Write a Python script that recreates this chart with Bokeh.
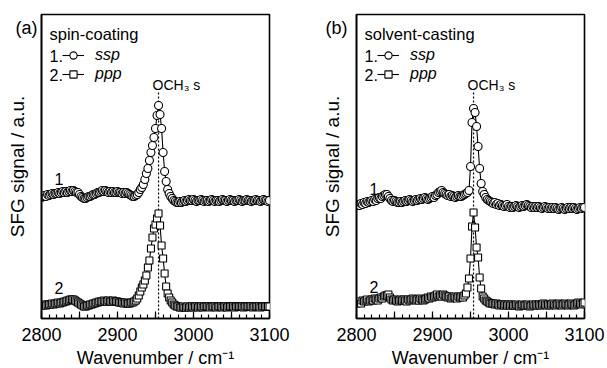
from bokeh.plotting import figure
from bokeh.layouts import row
from bokeh.models import Range1d, FixedTicker, Label, Legend, LegendItem, Title
from bokeh.embed import file_html
from bokeh.resources import INLINE

# ---------------- data ----------------
wavenumber = list(range(2800, 3101, 2))
major_ticks = [2800, 2850, 2900, 2950, 3000, 3050, 3100]
tick_labels = {2800: "2800", 2850: "", 2900: "2900", 2950: "", 3000: "3000", 3050: "", 3100: "3100"}
minor_ticks = list(range(2800, 3101, 10))
peak_wn = 2954

a_ssp = [121, 122, 123, 122, 124, 123, 124, 125, 124, 125,
         125, 126, 125, 126, 127, 126, 127, 126, 127, 128,
         127, 128, 127, 126, 126, 124, 122, 121, 120, 120,
         121, 122, 122, 123, 124, 124, 125, 126, 126, 127,
         128, 127, 128, 127, 126, 127, 126, 127, 126, 126,
         127, 126, 126, 125, 126, 125, 126, 125, 124, 123,
         122, 122, 123, 124, 126, 129, 131, 134, 139, 145,
         150, 158, 166, 173, 181, 190, 203, 213, 204, 190,
         166, 147, 137, 129, 125, 122, 120, 118, 117, 116,
         116, 117, 116, 117, 118, 117, 118, 119, 118, 118,
         119, 118, 117, 118, 118, 119, 118, 117, 118, 118,
         117, 118, 119, 118, 117, 118, 118, 117, 118, 119,
         118, 118, 117, 118, 119, 118, 118, 117, 118, 118,
         119, 118, 117, 118, 118, 119, 118, 118, 117, 118,
         118, 119, 118, 118, 117, 118, 119, 118, 118, 117,
         118]
a_ppp = [13, 13, 14, 13, 14, 14, 14, 15, 14, 15,
         15, 16, 15, 16, 16, 17, 17, 18, 18, 19,
         19, 19, 18, 17, 16, 15, 14, 13, 12, 12,
         13, 13, 14, 14, 15, 15, 16, 16, 17, 17,
         17, 18, 17, 17, 18, 17, 17, 18, 17, 17,
         17, 16, 16, 16, 15, 16, 15, 15, 15, 16,
         16, 17, 18, 20, 23, 27, 31, 34, 38, 43,
         51, 58, 70, 81, 90, 94, 100, 105, 93, 73,
         60, 45, 32, 25, 21, 18, 16, 14, 13, 12,
         12, 11, 11, 12, 11, 11, 12, 11, 12, 12,
         11, 12, 12, 11, 12, 12, 11, 12, 12, 12,
         12, 11, 12, 12, 12, 11, 12, 12, 12, 11,
         12, 12, 11, 12, 12, 12, 12, 11, 12, 12,
         12, 12, 12, 11, 12, 12, 12, 12, 12, 11,
         12, 12, 12, 12, 11, 12, 12, 12, 12, 12,
         12]
b_ssp = [113, 114, 113, 115, 114, 116, 115, 117, 116, 117,
         118, 117, 119, 118, 120, 121, 120, 122, 123, 124,
         124, 122, 120, 118, 117, 118, 117, 116, 116, 117,
         116, 117, 118, 117, 118, 119, 118, 117, 118, 119,
         118, 119, 120, 119, 120, 121, 120, 119, 120, 121,
         122, 121, 123, 124, 126, 127, 128, 126, 125, 124,
         123, 124, 122, 123, 122, 121, 122, 123, 122, 122,
         123, 124, 125, 126, 128, 152, 196, 210, 206, 192,
         172, 150, 135, 127, 124, 121, 119, 118, 117, 116,
         115, 116, 114, 115, 113, 114, 113, 112, 113, 114,
         112, 111, 112, 111, 112, 113, 112, 111, 112, 113,
         112, 113, 114, 113, 112, 111, 112, 111, 112, 111,
         112, 111, 110, 111, 112, 111, 110, 111, 110, 111,
         110, 111, 110, 109, 110, 111, 110, 109, 110, 111,
         110, 111, 110, 111, 110, 109, 110, 111, 110, 111,
         111]
b_ppp = [15, 16, 17, 15, 18, 17, 18, 19, 17, 18,
         19, 18, 20, 19, 18, 20, 21, 20, 22, 23,
         23, 24, 21, 19, 18, 19, 18, 17, 18, 19,
         18, 19, 18, 17, 19, 18, 19, 20, 19, 18,
         19, 18, 20, 19, 18, 19, 20, 21, 20, 22,
         21, 22, 23, 24, 22, 23, 22, 24, 23, 22,
         21, 22, 20, 21, 22, 21, 20, 22, 21, 22,
         21, 23, 25, 31, 40, 60, 92, 106, 91, 71,
         61, 41, 30, 22, 20, 18, 17, 16, 15, 15,
         15, 14, 15, 14, 13, 14, 14, 13, 14, 13,
         14, 13, 14, 13, 13, 14, 13, 12, 13, 14,
         13, 13, 14, 13, 12, 13, 14, 13, 14, 13,
         14, 13, 14, 15, 14, 13, 14, 13, 14, 15,
         14, 13, 14, 15, 14, 13, 14, 15, 14, 13,
         14, 15, 14, 13, 14, 15, 16, 15, 14, 15,
         16]

FONT = "Liberation Sans"


def make_panel(tag, title, ssp, ppp, border_left, border_right, tag_dx):
    p = figure(frame_width=228, frame_height=304,
               min_border_left=border_left, min_border_right=border_right,
               min_border_top=14, min_border_bottom=50,
               x_range=Range1d(2800, 3100), y_range=Range1d(0, 304),
               output_backend="svg", toolbar_location=None,
               background_fill_color="white", border_fill_color="white")
    p.grid.visible = False
    p.outline_line_color = "black"
    p.outline_line_width = 1.6

    # x axis
    xa = p.xaxis[0]
    xa.ticker = FixedTicker(ticks=major_ticks, minor_ticks=minor_ticks)
    xa.major_label_overrides = tick_labels
    xa.major_tick_in = 7
    xa.major_tick_out = 0
    xa.minor_tick_in = 4
    xa.minor_tick_out = 0
    xa.axis_line_width = 1.6
    xa.axis_line_color = "black"
    xa.major_tick_line_color = "black"
    xa.minor_tick_line_color = "black"
    xa.major_tick_line_width = 1.2
    xa.minor_tick_line_width = 1.2
    xa.major_label_text_font = FONT
    xa.major_label_text_font_size = "18px"
    xa.major_label_text_color = "black"
    xa.major_label_standoff = 9
    xa.axis_label = "Wavenumber / cm\u207b\u00b9"
    xa.axis_label_text_font = FONT
    xa.axis_label_text_font_size = "18px"
    xa.axis_label_text_font_style = "normal"
    xa.axis_label_text_color = "black"
    xa.axis_label_standoff = 4

    # y axis
    ya = p.yaxis[0]
    ya.ticker = FixedTicker(ticks=[])
    ya.axis_line_width = 1.6
    ya.axis_line_color = "black"
    ya.axis_label = "SFG signal / a.u."
    ya.axis_label_text_font = FONT
    ya.axis_label_text_font_size = "19px"
    ya.axis_label_text_font_style = "normal"
    ya.axis_label_text_color = "black"
    ya.axis_label_standoff = 14

    # panel tag, outside the frame (side panel => not clipped)
    p.add_layout(Title(text=tag, align="left", vertical_align="bottom",
                       offset=tag_dx, standoff=-47,
                       text_font=FONT, text_font_size="18px",
                       text_font_style="normal", text_color="black"), "above")

    # marker line
    p.segment(x0=[peak_wn], y0=[0], x1=[peak_wn], y1=[226],
              line_color="black", line_width=1.2, line_dash="2 2")
    p.add_layout(Label(x=peak_wn, y=234, x_offset=-6, text="OCH\u2083 s",
                       text_font=FONT, text_font_size="14px",
                       text_baseline="middle", text_color="black"))

    # series
    l1 = p.line(wavenumber, ssp, line_color="black", line_width=1.1)
    s1 = p.scatter(wavenumber, ssp, marker="circle", size=8,
                   fill_color="white", line_color="black", line_width=1.1)
    l2 = p.line(wavenumber, ppp, line_color="black", line_width=1.1)
    s2 = p.scatter(wavenumber, ppp, marker="square", size=7,
                   fill_color="white", line_color="black", line_width=1.1)

    legend = Legend(items=[LegendItem(label="ssp", renderers=[l1, s1]),
                           LegendItem(label="ppp", renderers=[l2, s2])],
                    location=(21, 235), orientation="vertical",
                    background_fill_alpha=0, border_line_alpha=0,
                    padding=0, margin=0, spacing=1,
                    glyph_width=22, glyph_height=18, label_height=18,
                    label_standoff=11,
                    label_text_font=FONT, label_text_font_size="16px",
                    label_text_font_style="italic", label_text_color="black")
    p.add_layout(legend)

    def lab(x, y, text, size, baseline="middle"):
        p.add_layout(Label(x=x, y=y, x_units="screen", y_units="screen",
                           text=text, text_font=FONT, text_font_size=size,
                           text_baseline=baseline, text_color="black"))

    lab(8, 285, title, "16.5px")
    lab(8, 263, "1.", "16px")
    lab(8, 244, "2.", "16px")
    return p


pa = make_panel("(a)", "spin-coating", a_ssp, a_ppp, 41, 31, -26)
pb = make_panel("(b)", "solvent-casting", b_ssp, b_ppp, 56, 23, -31)

# curve numbers
for p, n1, n2 in ((pa, 140, 31), (pb, 130, 32)):
    for txt, yy in (("1", n1), ("2", n2)):
        p.add_layout(Label(x=13, y=yy, x_units="screen", y_units="screen",
                           text=txt, text_font=FONT, text_font_size="16px",
                           text_baseline="middle", text_color="black"))

layout = row(pa, pb)
open("out.html", "w").write(file_html(layout, INLINE))
